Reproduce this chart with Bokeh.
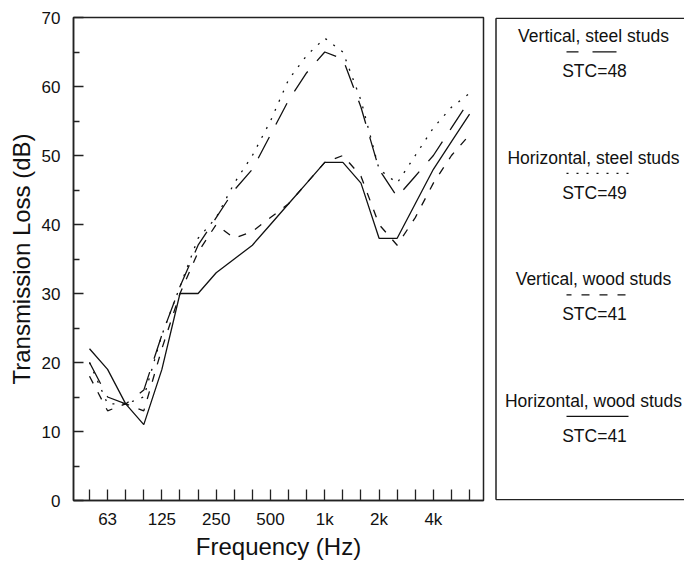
from bokeh.plotting import figure
from bokeh.models import Range1d, FixedTicker
from bokeh.layouts import row
from bokeh.embed import file_html
from bokeh.resources import INLINE
from bokeh.core.properties import value

# 1/3-octave band centre frequencies (Hz) -> plotted at band index
bands = ["50", "63", "80", "100", "125", "160", "200", "250", "315", "400", "500",
         "630", "800", "1k", "1.25k", "1.6k", "2k", "2.5k", "3.15k", "4k", "5k", "6.3k"]
labelled_bands = ["63", "125", "250", "500", "1k", "2k", "4k"]

# Transmission loss (dB)
vert_steel = [20, 15, 14, 16, 24, 31, 37, 41, 45, 48, 53, 58, 62, 65, 64, 57, 48, 44, 47, 50, 54, 58]
horiz_steel = [20, 14, 14, 15, 24, 31, 38, 41, 46, 50, 55, 61, 64.5, 67, 65, 58, 48, 46, 50, 54, 57, 59]
vert_wood = [18, 13, 14, 13, 22, 30, 36, 40, 38, 39, 41, 43, 46, 49, 50, 47, 40, 37, 41, 46, 50, 53]
horiz_wood = [22, 19, 14, 11, 19, 30, 30, 33, 35, 37, 40, 43, 46, 49, 49, 46, 38, 38, 43, 48, 52, 56]

series_names = ["Vertical, steel studs", "Horizontal, steel studs",
                "Vertical, wood studs", "Horizontal, wood studs"]
stc_labels = ["STC=48", "STC=49", "STC=41", "STC=41"]
series_values = [vert_steel, horiz_steel, vert_wood, horiz_wood]
dashes = ["24 14", "2 8", "8 10", "solid"]
legend_dash_offsets = [12, 0, 3, 0]

FONT = "Liberation Sans"
INK = "#111111"
idx = list(range(len(bands)))

p = figure(width=490, height=562, x_range=Range1d(-0.884, 21.77), y_range=Range1d(0, 70),
           output_backend="svg", toolbar_location=None,
           min_border_left=73, min_border_right=7, min_border_top=17, min_border_bottom=60)
p.grid.visible = False
p.background_fill_color = "white"
p.border_fill_color = "white"
p.outline_line_color = "#222222"
p.outline_line_width = 1.5

for vals, dash in zip(series_values, dashes):
    p.line(idx, vals, line_color=INK, line_width=1.3, line_dash=dash)

xa = p.xaxis[0]
xa.ticker = FixedTicker(ticks=idx, minor_ticks=[])
xa.major_label_overrides = {i: (b if b in labelled_bands else "") for i, b in enumerate(bands)}
xa.axis_label = "Frequency (Hz)"
xa.major_tick_in = 11
xa.major_tick_out = 0
xa.major_label_standoff = 9
xa.axis_label_standoff = 1

ya = p.yaxis[0]
ya.ticker = FixedTicker(ticks=list(range(0, 71, 10)), minor_ticks=list(range(5, 70, 10)))
ya.axis_label = "Transmission Loss (dB)"
ya.major_tick_in = 10
ya.major_tick_out = 0
ya.minor_tick_in = 6
ya.minor_tick_out = 0
ya.major_label_standoff = 13
ya.axis_label_standoff = 4

for ax in (xa, ya):
    ax.axis_line_color = "#222222"
    ax.axis_line_width = 1.5
    ax.major_tick_line_color = "#222222"
    ax.major_tick_line_width = 1.3
    ax.minor_tick_line_color = "#222222"
    ax.minor_tick_line_width = 1.3
    ax.major_label_text_font = FONT
    ax.major_label_text_font_size = "17px"
    ax.major_label_text_color = INK
    ax.axis_label_text_font = FONT
    ax.axis_label_text_font_size = "24px"
    ax.axis_label_text_font_style = "normal"
    ax.axis_label_text_color = INK

# Legend panel (page-pixel coordinates inside its own frame); box runs off the right edge
lg = figure(width=194, height=562, x_range=Range1d(490, 684), y_range=Range1d(502, 17),
            output_backend="svg", toolbar_location=None,
            min_border_left=0, min_border_right=0, min_border_top=17, min_border_bottom=60)
lg.axis.visible = False
lg.grid.visible = False
lg.outline_line_color = None
lg.outline_line_width = 0
lg.background_fill_color = "white"
lg.border_fill_color = "white"
lg.segment(x0=[495.5, 495.5, 495.5], y0=[17.7, 17.7, 501.3],
           x1=[684, 495.5, 684], y1=[17.7, 501.3, 501.3],
           line_color="#222222", line_width=1.5)

cx = 593
for i, (name, stc, dash, off) in enumerate(zip(series_names, stc_labels, dashes, legend_dash_offsets)):
    y0 = 36 + 122 * i
    lg.text(x=[cx], y=[y0], text=[name], text_align="center", text_baseline="middle",
            text_font=value(FONT), text_font_size="17.5px", text_color=INK)
    lg.line(x=[566, 628], y=[y0 + 15.5, y0 + 15.5], line_color=INK, line_width=1.3,
            line_dash=dash, line_dash_offset=off)
    lg.text(x=[cx + 1], y=[y0 + 35], text=[stc], text_align="center", text_baseline="middle",
            text_font=value(FONT), text_font_size="17.5px", text_color=INK)

# the legend box continues past the window edge: mask any edge stroke at the very right
lg.segment(x0=[683.6], y0=[19], x1=[683.6], y1=[500], line_color="white", line_width=2.5,
           level="overlay")

layout = row(p, lg)
open("out.html", "w").write(file_html(layout, INLINE))
